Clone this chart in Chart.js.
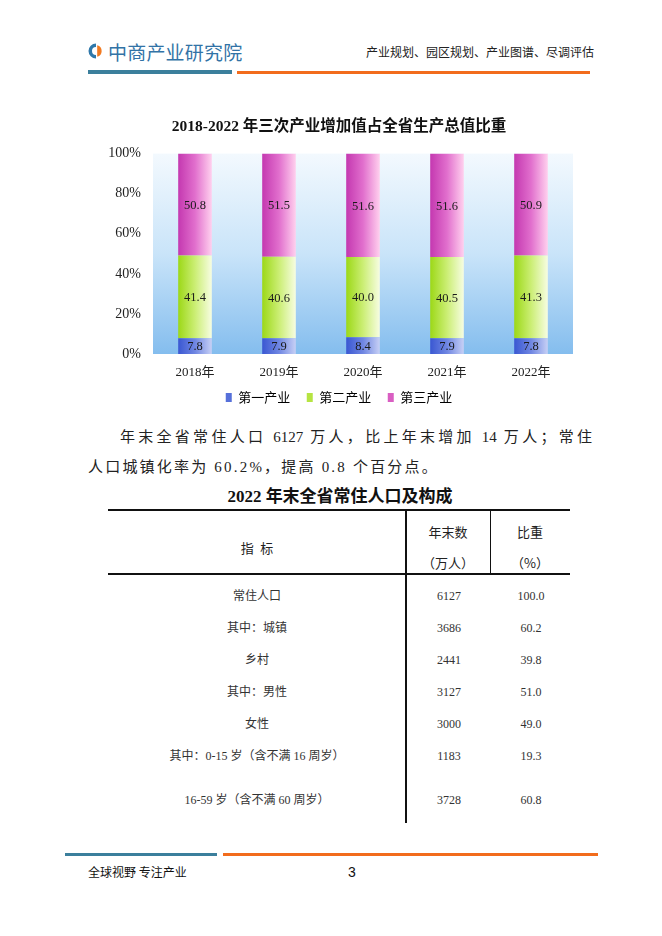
<!DOCTYPE html>
<html>
<head>
<meta charset="utf-8">
<script src="https://cdn.jsdelivr.net/npm/chart.js@4.4.0/dist/chart.umd.min.js"></script>
<style>
  html, body { margin: 0; padding: 0; background: #fff; }
  body { width: 662px; height: 936px; position: relative; overflow: hidden;
         font-family: 'Liberation Serif', 'Noto Sans CJK SC', serif; color: #222; }
  .abs { position: absolute; white-space: nowrap; }
  .sans { font-family: 'Noto Sans CJK SC', sans-serif; }
  .line { position: absolute; height: 3px; }
  .cell { position: absolute; width: 200px; margin-left: -100px; text-align: center;
          height: 20px; line-height: 20px; margin-top: -10px; font-size: 12px; color: #333; }
  .rule { position: absolute; background: #111; }
</style>
</head>
<body>

<!-- header -->
<svg class="abs" style="left:88px; top:43px;" width="16" height="16" viewBox="0 0 16 16">
  <path d="M8 0.5 A7.5 7.5 0 0 0 8 15.5 L8 12 A4 4 0 0 1 8 4 Z" fill="#2f78aa"/>
  <path d="M9.2 2.2 A6 6 0 0 1 9.2 13.8 Z" fill="#f27a21"/>
</svg>
<div class="abs sans" style="left:108px; top:38px; font-size:19px; line-height:28px; color:#3273a6; letter-spacing:0.2px;">中商产业研究院</div>
<div class="abs sans" style="left:366px; top:42px; font-size:12px; line-height:20px; color:#222;">产业规划、园区规划、产业图谱、尽调评估</div>
<div class="line" style="left:88px; top:70px; width:144px; height:4px; background:#3b7f9c;"></div>
<div class="line" style="left:237px; top:71px; width:353px; background:#f26c1c;"></div>

<!-- chart -->
<div class="abs" style="left:90px; top:110px; width:500px; height:304px;">
  <canvas id="shareChart"></canvas>
</div>

<!-- paragraph -->
<div class="abs" style="left:120px; top:425px; width:472px; font-size:15px; line-height:24px; text-align:justify; text-align-last:justify; white-space:normal;">年末全省常住人口 6127 万人，比上年末增加 14 万人；常住</div>
<div class="abs" style="left:88px; top:455px; font-size:15px; line-height:24px; letter-spacing:2.2px;">人口城镇化率为 60.2%，提高 0.8 个百分点。</div>

<!-- table -->
<div class="abs" style="left:90px; top:485px; width:500px; text-align:center; font-size:17px; line-height:24px; font-weight:bold; color:#111;">2022 年末全省常住人口及构成</div>
<div class="rule" style="left:108px; top:509px; width:462px; height:1.5px;"></div>
<div class="rule" style="left:108px; top:573px; width:462px; height:1.5px;"></div>
<div class="rule" style="left:405px; top:509px; width:1.5px; height:314px;"></div>
<div class="rule" style="left:490px; top:509px; width:1px; height:65px;"></div>
<div id="tableCells"></div>

<!-- footer -->
<div class="line" style="left:65px; top:853px; width:152px; background:#3b7f9c;"></div>
<div class="line" style="left:223px; top:853px; width:375px; background:#f26c1c;"></div>
<div class="abs sans" style="left:88px; top:862px; font-size:12px; line-height:20px; color:#111;">全球视野 专注产业</div>
<div class="abs" style="left:348px; top:862px; font-size:14px; line-height:20px; color:#111; font-family:'Liberation Sans', sans-serif;">3</div>

<script>
// chart data
const years = ['2018年', '2019年', '2020年', '2021年', '2022年'];
const seriesNames = ['第一产业', '第二产业', '第三产业'];
const primaryShare = [7.8, 7.9, 8.4, 7.9, 7.8];
const secondaryShare = [41.4, 40.6, 40.0, 40.5, 41.3];
const tertiaryShare = [50.8, 51.5, 51.6, 51.6, 50.9];
const yTicks = [0, 20, 40, 60, 80, 100];

// table data
const rowLabels = ['常住人口', '其中：城镇', '乡村', '其中：男性', '女性', '其中：0-15 岁（含不满 16 周岁）', '16-59 岁（含不满 60 周岁）'];
const rowCounts = ['6127', '3686', '2441', '3127', '3000', '1183', '3728'];
const rowShares = ['100.0', '60.2', '39.8', '51.0', '49.0', '19.3', '60.8'];
const rowY = [596, 628, 660, 692, 724, 756, 800];

const serif = "'Liberation Serif', 'Noto Sans CJK SC', serif";
const sans = "'Noto Sans CJK SC', sans-serif";
const BAR_PCT = 0.4;

function barFill(stops) {
  return (ctx) => {
    const chart = ctx.chart;
    const x = chart.scales.x;
    if (!chart.chartArea || !x || ctx.dataIndex === undefined) return stops[1];
    const center = x.getPixelForValue(ctx.dataIndex);
    const half = x.width / years.length * BAR_PCT / 2;
    const g = chart.ctx.createLinearGradient(center - half, 0, center + half, 0);
    stops.forEach((c, i) => g.addColorStop(i / (stops.length - 1), c));
    return g;
  };
}

const blueStops = ['#3a57d2', '#6f86e2', '#c7d0f5'];
const greenStops = ['#9cd817', '#cbee74', '#f7fde2'];
const pinkStops = ['#c438b0', '#e16fcd', '#ffd0ee'];
const legendColors = ['#5670da', '#b6e442', '#d95ec2'];

const plotBackground = {
  id: 'plotBackground',
  beforeDatasetsDraw(chart) {
    const { ctx, chartArea: a } = chart;
    const g = ctx.createLinearGradient(0, a.top, 0, a.bottom);
    g.addColorStop(0, '#f3f9fe');
    g.addColorStop(0.5, '#c9e4f9');
    g.addColorStop(1, '#84bdee');
    ctx.save();
    ctx.fillStyle = g;
    ctx.fillRect(a.left, a.top, a.right - a.left, a.bottom - a.top);
    ctx.restore();
  }
};

const valueLabels = {
  id: 'valueLabels',
  afterDatasetsDraw(chart) {
    const { ctx } = chart;
    ctx.save();
    ctx.font = '12.5px ' + serif;
    ctx.fillStyle = '#1a1a1a';
    ctx.textAlign = 'center';
    ctx.textBaseline = 'middle';
    chart.data.datasets.forEach((ds, i) => {
      chart.getDatasetMeta(i).data.forEach((bar, j) => {
        ctx.fillText(ds.data[j].toFixed(1), bar.x, (bar.y + bar.base) / 2 + 1);
      });
    });
    ctx.restore();
  }
};

// trailing gap so legend items sit as far apart as in the source
const legendGap = '\u2002';

new Chart(document.getElementById('shareChart'), {
  type: 'bar',
  data: {
    labels: years,
    datasets: [
      { label: seriesNames[0], data: primaryShare, backgroundColor: barFill(blueStops) },
      { label: seriesNames[1], data: secondaryShare, backgroundColor: barFill(greenStops) },
      { label: seriesNames[2], data: tertiaryShare, backgroundColor: barFill(pinkStops) },
    ],
  },
  options: {
    responsive: true,
    maintainAspectRatio: false,
    animation: false,
    datasets: { bar: { barPercentage: BAR_PCT, categoryPercentage: 1, borderWidth: 0 } },
    layout: { padding: { left: 15, right: 17, top: 0, bottom: 0 } },
    scales: {
      x: {
        stacked: true,
        grid: { display: false, drawTicks: false },
        border: { display: false },
        ticks: { color: '#222', padding: 11, font: { family: serif, size: 13 } },
        afterFit: (s) => { s.height = 27; },
      },
      y: {
        stacked: true,
        min: yTicks[0],
        max: yTicks[yTicks.length - 1],
        grid: { display: false, drawTicks: false },
        border: { display: false },
        afterBuildTicks: (s) => { s.ticks = yTicks.map((v) => ({ value: v })); },
        ticks: { color: '#222', padding: 12, font: { family: serif, size: 14 }, callback: (v) => v + '%' },
        afterFit: (s) => { s.width = 48; },
      },
    },
    plugins: {
      title: {
        display: true,
        text: '2018-2022 年三次产业增加值占全省生产总值比重',
        color: '#111',
        font: { family: serif, size: 15.5, weight: 'bold' },
        padding: { top: 8, bottom: 17 },
      },
      legend: {
        position: 'bottom',
        labels: {
          color: '#222',
          font: { family: sans, size: 13 },
          boxWidth: 6,
          boxHeight: 9,
          padding: 10,
          generateLabels: (chart) => chart.data.datasets.map((ds, i) => ({
            text: i < chart.data.datasets.length - 1 ? ds.label + legendGap : ds.label,
            fillStyle: legendColors[i],
            strokeStyle: legendColors[i],
            lineWidth: 0,
            hidden: false,
            datasetIndex: i,
          })),
        },
      },
      tooltip: { enabled: false },
    },
  },
  plugins: [plotBackground, valueLabels],
});

// table cells
const cells = document.getElementById('tableCells');
function addCell(text, x, y, extra) {
  const d = document.createElement('div');
  d.className = 'cell';
  d.style.left = x + 'px';
  d.style.top = y + 'px';
  if (extra) Object.assign(d.style, extra);
  d.textContent = text;
  cells.appendChild(d);
}
const headFont = { fontFamily: sans, fontSize: '13px', color: '#222' };
addCell('指\u2002标', 257, 548, headFont);
addCell('年末数', 448, 532, headFont);
addCell('（万人）', 448, 563, headFont);
addCell('比重', 530, 532, headFont);
addCell('（%）', 530, 563, headFont);
rowLabels.forEach((label, i) => {
  addCell(label, 257, rowY[i], { fontFamily: serif });
  addCell(rowCounts[i], 449, rowY[i]);
  addCell(rowShares[i], 531, rowY[i]);
});
</script>
</body>
</html>
